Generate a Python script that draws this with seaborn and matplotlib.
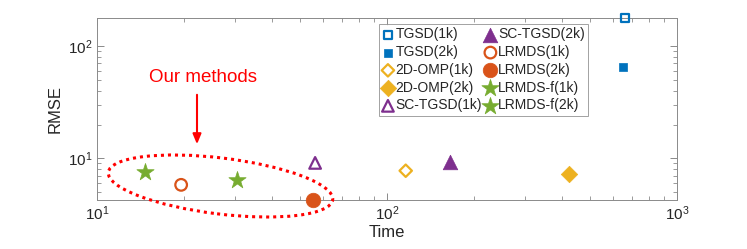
import matplotlib
matplotlib.use("Agg")
import matplotlib.pyplot as plt
import matplotlib.transforms as mtransforms
from matplotlib.patches import Ellipse
import pandas as pd
import seaborn as sns

# values (Time vs RMSE, log-log)
methods = ["TGSD(1k)", "TGSD(2k)", "2D-OMP(1k)", "2D-OMP(2k)", "SC-TGSD(1k)",
           "SC-TGSD(2k)", "LRMDS(1k)", "LRMDS(2k)", "LRMDS-f(1k)", "LRMDS-f(2k)"]
time = [660, 650, 116, 425, 56.5, 165, 19.5, 55.5, 14.6, 30.3]
rmse = [178, 65, 7.75, 7.25, 9.1, 9.3, 5.8, 4.25, 7.55, 6.4]
markers = ["s", "s", "D", "D", "^", "^", "o", "o", "*", "*"]
colors = ["#0072BD", "#0072BD", "#EDB120", "#EDB120", "#7E2F8E",
          "#7E2F8E", "#D95319", "#D95319", "#77AC30", "#77AC30"]
filled = [False, True, False, True, False, True, False, True, True, True]
sizes = [36, 36, 40, 70, 70, 110, 70, 110, 170, 170]

df = pd.DataFrame({"method": methods, "Time": time, "RMSE": rmse})

sns.set_style("ticks")
plt.rcParams["font.family"] = ["Liberation Sans", "DejaVu Sans"]
plt.rcParams["xtick.direction"] = "in"
plt.rcParams["ytick.direction"] = "in"

fig = plt.figure(figsize=(7.47, 2.49), dpi=100)
ax = fig.add_axes([0.1299, 0.1968, 0.9063 - 0.1299, 0.9277 - 0.1968])

for i, m in enumerate(methods):
    sub = df[df["method"] == m]
    if filled[i]:
        sns.scatterplot(data=sub, x="Time", y="RMSE", ax=ax, marker=markers[i],
                        s=sizes[i], color=colors[i], edgecolor=colors[i],
                        linewidth=0.5, label=m, clip_on=False, zorder=3)
    else:
        sns.scatterplot(data=sub, x="Time", y="RMSE", ax=ax, marker=markers[i],
                        s=sizes[i], facecolor="none", edgecolor=colors[i],
                        linewidth=1.6, label=m, clip_on=False, zorder=3)

ax.set_xscale("log")
ax.set_yscale("log")
ax.set_xlim(10, 1000)
ax.set_ylim(4.25, 178)
ax.set_xlabel("Time", fontsize=12, color="#262626", labelpad=1)
ax.set_ylabel("RMSE", fontsize=12, color="#262626", labelpad=4)

for s in ax.spines.values():
    s.set_color("#8a8a8a")
    s.set_linewidth(0.7)
ax.tick_params(which="both", top=True, right=True, colors="#8a8a8a",
               labelcolor="#262626", labelsize=11)
ax.tick_params(which="major", length=5, width=0.7)
ax.tick_params(which="minor", length=3, width=0.6)

leg = ax.legend(ncol=2, loc="upper left", bbox_to_anchor=(0.486, 0.967),
                fontsize=10, frameon=True, fancybox=False, borderpad=0.25,
                labelspacing=0.27, handlelength=0.8, handletextpad=0.15,
                columnspacing=0.2, borderaxespad=0)
leg.get_frame().set_edgecolor("#8a8a8a")
leg.get_frame().set_linewidth(0.7)

# annotation: arrow, label and dotted ellipse (figure pixel coords)
ax.annotate("", xy=(197, 102), xytext=(197, 157), xycoords="figure pixels",
            textcoords="figure pixels",
            arrowprops=dict(arrowstyle="-|>,head_length=0.6,head_width=0.25",
                            color="red", lw=1.5))
fig.text(203 / 747, 172 / 249, "Our methods", color="red", fontsize=13.5,
         ha="center", va="center")
ell = Ellipse((220.5, 63), width=226, height=56, angle=-7,
              transform=mtransforms.IdentityTransform(), fill=False,
              edgecolor="red", linewidth=2.2, linestyle=(0, (1, 1.3)))
fig.patches.append(ell)

fig.savefig("out.png", dpi=100)
